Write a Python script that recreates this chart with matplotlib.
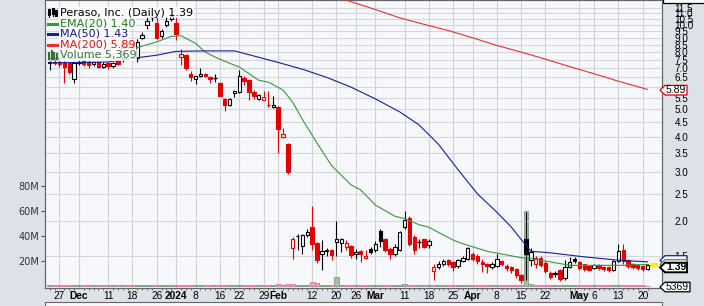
import numpy as np
import pandas as pd
import matplotlib
matplotlib.use("Agg")
import matplotlib.pyplot as plt
from matplotlib.patches import Rectangle, Polygon
from matplotlib.lines import Line2D
from matplotlib.ticker import FixedLocator, FixedFormatter, NullLocator

W, H = 704, 306

# trading days shown (Nov 22 2023 .. May 21 2024)
holidays = ["2023-11-23", "2023-12-25", "2024-01-01", "2024-01-15",
            "2024-02-19", "2024-03-29"]
dates = pd.bdate_range("2023-11-22", "2024-05-21", freq="C", holidays=holidays)

# daily prices
opens = [7.30, 7.40, 7.40, 7.35, 7.30, 6.40, 7.30, 7.45, 7.40, 7.25,
         7.35, 7.10, 7.30, 7.15, 7.50, 7.60, 8.35, 8.55, 7.60, 9.00,
         10.00, 10.60, 10.20, 9.10, 10.00, 10.50, 10.20, 7.70, 7.80, 6.70,
         6.40, 6.55, 6.70, 6.50, 6.45, 6.20, 5.45, 5.20, 5.70, 5.75,
         6.45, 6.35, 5.75, 5.45, 5.42, 5.20, 5.10, 5.10, 4.00, 3.75,
         1.60, 1.78, 1.63, 1.79, 1.90, 1.67, 1.53, 1.56, 1.58, 1.68,
         1.67, 1.62, 1.63, 1.52, 1.56, 1.48, 1.59, 1.57, 1.85, 1.72,
         1.59, 1.53, 1.58, 1.90, 2.05, 1.76, 1.68, 1.72, 1.64, 1.33,
         1.37, 1.41, 1.45, 1.43, 1.38, 1.44, 1.47, 1.53, 1.50, 1.43,
         1.40, 1.37, 1.38, 1.44, 1.38, 1.37, 1.35, 1.28, 1.72, 1.45,
         1.40, 1.48, 1.42, 1.31, 1.29, 1.34, 1.25, 1.37, 1.47, 1.43,
         1.40, 1.38, 1.36, 1.39, 1.37, 1.37, 1.34, 1.44, 1.58, 1.45,
         1.41, 1.39, 1.38, 1.35]
highs = [7.45, 7.50, 7.50, 7.45, 7.40, 7.40, 7.50, 7.50, 7.50, 7.40,
         7.40, 7.35, 7.35, 7.35, 7.55, 9.30, 8.70, 8.65, 8.90, 9.45,
         10.70, 11.00, 10.80, 9.70, 10.70, 11.10, 10.70, 8.20, 7.90, 6.85,
         6.60, 7.00, 6.75, 6.55, 6.70, 6.25, 5.50, 5.50, 5.85, 6.90,
         6.55, 6.40, 5.85, 5.65, 5.80, 5.80, 5.60, 5.15, 4.30, 3.80,
         1.75, 1.80, 1.80, 1.88, 2.27, 1.69, 1.71, 1.60, 1.59, 2.00,
         1.74, 1.71, 1.64, 1.59, 1.58, 1.57, 1.61, 1.70, 1.88, 1.74,
         1.61, 1.66, 1.84, 2.18, 2.08, 1.78, 1.72, 1.73, 1.72, 1.40,
         1.44, 1.47, 1.46, 1.44, 1.47, 1.50, 1.62, 1.55, 1.52, 1.46,
         1.42, 1.43, 1.52, 1.45, 1.40, 1.38, 1.36, 1.29, 2.15, 1.60,
         1.50, 1.50, 1.44, 1.33, 1.33, 1.35, 1.45, 1.49, 1.49, 1.44,
         1.41, 1.39, 1.41, 1.40, 1.38, 1.38, 1.45, 1.65, 1.66, 1.46,
         1.42, 1.40, 1.39, 1.40]
lows = [6.90, 7.20, 7.10, 6.20, 6.70, 6.20, 7.20, 7.15, 7.00, 7.15,
        7.00, 7.05, 6.95, 7.05, 7.20, 7.40, 8.20, 8.20, 7.40, 8.90,
        9.70, 10.30, 8.90, 9.00, 9.80, 10.30, 8.80, 7.20, 6.90, 6.30,
        6.15, 6.50, 6.50, 6.20, 6.25, 5.60, 4.95, 5.15, 5.55, 5.70,
        6.10, 5.40, 5.45, 5.40, 5.40, 5.10, 5.05, 3.50, 3.95, 2.95,
        1.47, 1.58, 1.52, 1.75, 1.58, 1.42, 1.34, 1.50, 1.45, 1.50,
        1.55, 1.58, 1.48, 1.47, 1.43, 1.47, 1.52, 1.55, 1.62, 1.55,
        1.47, 1.50, 1.56, 1.88, 1.63, 1.52, 1.60, 1.60, 1.60, 1.23,
        1.35, 1.38, 1.38, 1.33, 1.36, 1.43, 1.45, 1.44, 1.40, 1.32,
        1.30, 1.35, 1.37, 1.38, 1.33, 1.31, 1.25, 1.20, 1.23, 1.38,
        1.36, 1.37, 1.31, 1.24, 1.26, 1.22, 1.23, 1.36, 1.42, 1.34,
        1.33, 1.33, 1.35, 1.34, 1.33, 1.32, 1.33, 1.43, 1.41, 1.36,
        1.35, 1.34, 1.33, 1.34]
closes = [7.35, 7.30, 7.25, 7.10, 6.80, 7.30, 7.35, 7.25, 7.20, 7.35,
          7.10, 7.25, 7.15, 7.30, 7.25, 8.60, 8.55, 8.30, 8.70, 9.20,
          10.30, 10.65, 9.00, 9.50, 10.30, 10.80, 9.30, 7.85, 7.00, 6.50,
          6.55, 6.70, 6.55, 6.40, 6.45, 5.60, 5.20, 5.45, 5.80, 6.55,
          6.30, 5.75, 5.60, 5.62, 5.55, 5.18, 5.20, 4.25, 4.10, 2.98,
          1.72, 1.77, 1.78, 1.82, 1.65, 1.45, 1.56, 1.57, 1.51, 1.72,
          1.73, 1.67, 1.51, 1.55, 1.53, 1.50, 1.55, 1.65, 1.70, 1.58,
          1.53, 1.62, 1.82, 2.02, 1.66, 1.58, 1.68, 1.62, 1.70, 1.37,
          1.41, 1.44, 1.41, 1.37, 1.45, 1.48, 1.60, 1.46, 1.44, 1.40,
          1.38, 1.41, 1.47, 1.40, 1.36, 1.34, 1.28, 1.23, 1.53, 1.55,
          1.48, 1.39, 1.33, 1.26, 1.30, 1.24, 1.37, 1.43, 1.44, 1.36,
          1.35, 1.34, 1.39, 1.36, 1.35, 1.34, 1.44, 1.56, 1.44, 1.38,
          1.37, 1.36, 1.35, 1.39]
# volume in millions
volume = [0.6, 0.5, 0.7, 0.9, 0.8, 0.9, 0.6, 0.7, 0.8, 0.6,
          0.7, 0.6, 0.8, 0.7, 0.6, 1.2, 0.9, 0.8, 1.0, 0.9,
          1.1, 0.8, 1.0, 0.7, 0.9, 0.8, 1.0, 1.2, 0.9, 0.8,
          0.7, 0.6, 0.7, 0.6, 0.5, 0.8, 0.9, 0.7, 0.6, 1.0,
          0.8, 0.9, 0.7, 0.6, 0.7, 0.8, 0.6, 1.3, 0.9, 1.4,
          1.5, 1.0, 0.9, 0.8, 3.0, 2.6, 1.2, 0.8, 0.9, 7.5,
          1.0, 0.9, 0.8, 0.7, 0.8, 0.6, 0.9, 0.8, 1.0, 0.9,
          0.8, 0.7, 1.0, 1.5, 1.2, 0.9, 0.7, 0.8, 0.7, 1.0,
          0.8, 0.7, 0.6, 0.7, 0.6, 0.7, 0.9, 0.8, 0.7, 0.8,
          0.6, 0.7, 0.8, 0.7, 0.6, 0.7, 0.8, 0.9, 60.0, 1.5,
          1.0, 0.9, 0.8, 0.7, 0.6, 0.8, 0.9, 0.7, 0.6, 0.7,
          0.6, 0.5, 0.6, 0.5, 0.6, 0.5, 0.7, 1.0, 0.8, 0.6,
          0.5, 0.6, 0.5, 0.4]

# overlays (trading-day number, value)
ema20_day = [0, 6, 12, 14, 18, 22, 25, 27, 30, 32, 34, 37, 39, 43, 45, 48, 50,
             52, 55, 58, 62, 64, 67, 71, 73, 76, 78, 83, 85, 90, 97, 99, 103,
             107, 113, 118, 123]
ema20_val = [7.6, 7.6, 7.7, 7.95, 8.3, 8.7, 9.1, 9.15, 8.6, 8.0, 7.68, 7.3,
             7.08, 6.35, 6.25, 5.86, 5.3, 4.6, 3.79, 3.15, 2.69, 2.58, 2.28,
             2.08, 2.04, 1.94, 1.90, 1.71, 1.66, 1.56, 1.48, 1.47, 1.43, 1.39,
             1.39, 1.39, 1.40]
ma50_day = [0, 7, 12, 17, 22, 26, 32, 38, 42, 47, 52, 57, 62, 67, 72, 76, 80,
            84, 88, 92, 95, 97, 99, 103, 110, 117, 123]
ma50_val = [7.32, 7.35, 7.38, 7.6, 7.8, 8.05, 8.08, 8.08, 7.75, 7.35, 6.95,
            6.5, 6.0, 5.45, 4.9, 4.4, 3.75, 3.05, 2.5, 2.15, 1.9, 1.72, 1.56,
            1.54, 1.49, 1.45, 1.43]
ma200_day = [57, 62, 67, 72, 77, 82, 87, 92, 97, 102, 107, 112, 117, 123]
ma200_val = [12.9, 12.1, 11.35, 10.6, 10.05, 9.55, 9.0, 8.45, 8.0, 7.55, 7.1,
             6.7, 6.3, 5.89]
last_close = 1.39

tick_dates = ["2023-11-27", "2023-12-01", "2023-12-11", "2023-12-18",
              "2023-12-26", "2024-01-02", "2024-01-08", "2024-01-16",
              "2024-01-22", "2024-01-29", "2024-02-01", "2024-02-12",
              "2024-02-20", "2024-02-26", "2024-03-01", "2024-03-11",
              "2024-03-18", "2024-03-25", "2024-04-01", "2024-04-08",
              "2024-04-15", "2024-04-22", "2024-05-01", "2024-05-06",
              "2024-05-13", "2024-05-20"]
tick_labels = ["27", "Dec", "11", "18", "26", "2024", "8", "16", "22", "29",
               "Feb", "12", "20", "26", "Mar", "11", "18", "25", "Apr", "8",
               "15", "22", "May", "6", "13", "20"]
bold_labels = ["Dec", "2024", "Feb", "Mar", "Apr", "May"]

# 6.0 gridline has no visible label (covered by the MA(200) tag)
price_ticks = [1.5, 2.0, 2.5, 3.0, 3.5, 4.0, 4.5, 5.0, 5.5, 6.0, 6.5, 7.0,
               7.5, 8.0, 8.5, 9.0, 9.5, 10.0, 10.5, 11.0, 11.5]
price_labels = ["" if p == 6.0 else f"{p:.1f}" for p in price_ticks]
vol_ticks = [20, 40, 60, 80]

BG = "#f7f8fb"
RED = "#e00000"


def fx(x):
    return x / W


def fy(y):
    return 1 - y / H


fig = plt.figure(figsize=(W / 100, H / 100), dpi=100)
fig.patch.set_facecolor("#dde1e8")

ax = fig.add_axes([fx(45), fy(288), 617 / W, 288 / H])
ax.set_facecolor(BG)
pax = ax.twinx()

pos = np.arange(len(dates))
closes_arr = np.array(closes)
up = np.r_[True, np.diff(closes_arr) >= 0]

# volume
ax.bar(pos, volume, width=1.0, color=np.where(up, "#a9bea9", "#eba5b7"),
       edgecolor=np.where(up, "#7f9a7f", "#d57d98"), linewidth=0.6, zorder=2)
ax.set_ylim(-1.6, 228.8)
ax.set_xlim(-0.98, 125.98)
ax.set_yticks(vol_ticks)
ax.set_yticklabels([f"{v}M" for v in vol_ticks])
ax.tick_params(axis="y", length=3, width=0.8, pad=1, labelsize=7,
               labelcolor="#333333", color="#555555")

tick_pos = dates.get_indexer(pd.to_datetime(tick_dates))
ax.set_xticks(tick_pos)
ax.set_xticklabels(tick_labels, fontfamily="Liberation Sans")
for lab in ax.get_xticklabels():
    if lab.get_text() in bold_labels:
        lab.set_fontweight("bold")
ax.set_xticks(pos, minor=True)
ax.tick_params(axis="x", which="major", length=0, pad=2.5, labelsize=7.3)
ax.tick_params(axis="x", which="minor", length=1.5, width=0.6, color="#555555")
ax.grid(axis="x", color="#d0d3da", lw=0.8)
ax.set_axisbelow(True)
for sp in ax.spines.values():
    sp.set_color("#666666")
    sp.set_linewidth(0.8)

# price panel
pax.set_yscale("log")
pax.set_ylim(1.154, 12.27)
pax.yaxis.set_major_locator(FixedLocator(price_ticks))
pax.yaxis.set_major_formatter(FixedFormatter(price_labels))
pax.yaxis.set_minor_locator(NullLocator())
pax.tick_params(axis="y", length=0, pad=9, labelsize=7.1)
for lab in pax.get_yticklabels():
    lab.set_fontfamily("Liberation Sans")
pax.grid(axis="y", color="#d3d6dd", lw=0.8)
for sp in pax.spines.values():
    sp.set_color("#666666")
    sp.set_linewidth(0.8)

w = 0.7
for i in range(len(pos)):
    o, h, l, c = opens[i], highs[i], lows[i], closes[i]
    col = "black" if up[i] else RED
    pax.vlines(pos[i], l, h, color=col, lw=0.8, zorder=3)
    lo, hi = min(o, c), max(o, c)
    if hi / lo < 1.006:
        pax.hlines(c, pos[i] - w / 2, pos[i] + w / 2, color=col, lw=1.0, zorder=4)
    else:
        face = col if c < o else BG
        pax.add_patch(Rectangle((pos[i] - w / 2, lo), w, hi - lo, facecolor=face,
                                edgecolor=col, lw=0.8, zorder=4))

pax.plot(ema20_day, ema20_val, color="#3a963a", lw=0.8, zorder=5)
pax.plot(ma50_day, ma50_val, color="#1c1c96", lw=0.8, zorder=5)
pax.plot(ma200_day, ma200_val, color="#e83030", lw=0.8, zorder=5)
# yellow last-price marker after the final candle
pax.hlines(last_close, pos[-1] + 0.6, pos[-1] + 2.2, color="#f2f200", lw=3, zorder=4)

# legend
legend = [(12.5, "Peraso, Inc. (Daily) 1.39", "black"),
          (23.5, "EMA(20) 1.40", "#1e7b1e"),
          (34, "MA(50) 1.43", "#14148c"),
          (44.5, "MA(200) 5.89", "#e01010"),
          (55, "Volume 5,369", "#3f6f3f")]
for yc, txt, col in legend:
    fig.text(fx(59.5), fy(yc), txt, color=col, fontsize=8,
             fontfamily="DejaVu Sans", va="center", ha="left", zorder=6,
             bbox=dict(boxstyle="square,pad=0.08", fc="white", ec="none", alpha=0.8))
for yc, col in [(23.5, "#3a963a"), (34, "#1c1c96"), (44.5, "#e83030")]:
    fig.add_artist(Line2D([fx(48), fx(57)], [fy(yc), fy(yc)], color=col, lw=2.2, zorder=6))
for xb, top in [(49, 53), (51.5, 51), (54, 52.5), (56.5, 54)]:
    fig.add_artist(Line2D([fx(xb), fx(xb)], [fy(58.5), fy(top)], color="#3f6f3f", lw=1.6, zorder=6))
for xb, y0, y1, b0, b1 in [(49, 9, 16.5, 10, 14), (52.5, 8, 15.5, 9, 13), (56, 9.5, 16, 11, 15)]:
    fig.add_artist(Line2D([fx(xb), fx(xb)], [fy(y0), fy(y1)], color="black", lw=0.8, zorder=6))
    fig.add_artist(Line2D([fx(xb), fx(xb)], [fy(b0), fy(b1)], color="black", lw=2.2, zorder=6))


# price tags on the right edge
def tag(yc, text, ec, z, lw=0.9, bold=False, x0=660, x1=687):
    hh = 4.8
    pts = [(x0, yc), (x0 + 5, yc - hh), (x1, yc - hh), (x1, yc + hh), (x0 + 5, yc + hh)]
    fig.add_artist(Polygon([(fx(x), fy(y)) for x, y in pts], closed=True,
                           transform=fig.transFigure, facecolor="white",
                           edgecolor=ec, lw=lw, zorder=z))
    if text:
        fig.text(fx(x0 + 6), fy(yc), text, fontsize=7.5, va="center", ha="left",
                 fontfamily="Liberation Sans", fontweight="bold" if bold else "normal",
                 zorder=z + 0.1)


# MA(50) and EMA(20) tags sit hidden behind the last-price tag
tag(260.5, "", "#1c1c96", 2)
tag(264.5, "", "#3a963a", 2.2)
tag(267.5, "1.39", "black", 2.4, lw=1.4, bold=True)
tag(90.2, "5.89", RED, 2.6)
tag(287, "5369", "black", 2.8, x1=690)

# bottom strip of the next panel and header box
fig.add_artist(Rectangle((fx(45), 0), 617 / W, 4 / H, transform=fig.transFigure,
                         facecolor=BG, edgecolor="#666666", lw=0.8, zorder=1))
fig.add_artist(Rectangle((fx(663), fy(3)), 45 / W, 10 / H, transform=fig.transFigure,
                         facecolor="white", edgecolor="black", lw=0.9, zorder=1))

fig.savefig("out.png", dpi=100, facecolor=fig.get_facecolor())
